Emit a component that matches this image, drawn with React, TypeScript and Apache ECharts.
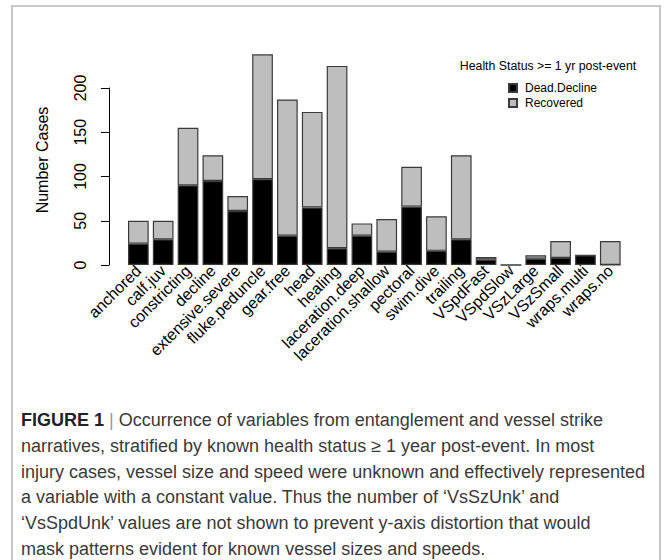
import React, { useEffect, useRef } from "react";
import * as echarts from "echarts";

const categories = [
  "anchored", "calf.juv", "constricting", "decline", "extensive.severe",
  "fluke.peduncle", "gear.free", "head", "healing", "laceration.deep",
  "laceration.shallow", "pectoral", "swim.dive", "trailing", "VSpdFast",
  "VSpdSlow", "VSzLarge", "VSzSmall", "wraps.multi", "wraps.no",
];
const deadDecline = [24, 29, 90, 95, 61, 97, 33, 65, 19, 33, 15, 66, 16, 29, 6, 0, 7, 8, 11, 0];
const recovered = [26, 21, 65, 29, 17, 141, 154, 108, 206, 14, 37, 45, 39, 95, 3, 0, 4, 19, 0, 27];
const yTicks = { min: 0, max: 200, interval: 50 };
const legendTitle = "Health Status >= 1 yr post-event";
const yAxisTitle = "Number Cases";
const captionLines = [
  "Occurrence of variables from entanglement and vessel strike",
  "narratives, stratified by known health status \u2265 1 year post-event. In most",
  "injury cases, vessel size and speed were unknown and effectively represented",
  "a variable with a constant value. Thus the number of \u2018VsSzUnk\u2019 and",
  "\u2018VsSpdUnk\u2019 values are not shown to prevent y-axis distortion that would",
  "mask patterns evident for known vessel sizes and speeds.",
];

const FONT = "Liberation Sans, Arial, sans-serif";
const CAP_FONT = "Liberation Sans, Arial, sans-serif";

export default function App() {
  const ref = useRef<HTMLDivElement>(null);
  useEffect(() => {
    if (!ref.current) return;
    const chart = echarts.init(ref.current, null, { renderer: "svg" });
    const capY0 = 420;
    const capStep = 25.8;
    const captionGraphics = captionLines.map((line, i) => ({
      type: "text",
      x: 21,
      y: capY0 + i * capStep,
      style: {
        text: i === 0 ? "{b|FIGURE 1} {p||} " + line : line,
        fontSize: 18,
        fontFamily: CAP_FONT,
        fill: "#3a3a3a",
        textVerticalAlign: "middle",
        rich: {
          b: { fontWeight: "bold", fontSize: 18, fontFamily: CAP_FONT, fill: "#222" },
          p: { fontSize: 18, fontFamily: CAP_FONT, fill: "#999" },
        },
      },
    }));
    chart.setOption({
      animation: false,
      backgroundColor: "#fff",
      grid: { left: 125.93, right: 41.3, top: 88, bottom: 295, containLabel: false },
      xAxis: {
        type: "category",
        data: categories,
        axisLine: { show: false },
        axisTick: { show: false },
        axisLabel: {
          interval: 0,
          rotate: 45,
          fontSize: 16,
          fontFamily: FONT,
          color: "#000",
          margin: 3,
        },
      },
      yAxis: {
        type: "value",
        min: yTicks.min,
        max: yTicks.max,
        interval: yTicks.interval,
        offset: 17,
        axisLine: { show: true, lineStyle: { color: "#000", width: 1 } },
        axisTick: { show: true, length: 8, lineStyle: { color: "#000", width: 1 } },
        axisLabel: { rotate: 90, fontSize: 16, fontFamily: FONT, color: "#000", margin: 20 },
        splitLine: { show: false },
      },
      legend: {
        data: ["Dead.Decline", "Recovered"],
        orient: "vertical",
        left: 503,
        top: 77,
        itemWidth: 8,
        itemHeight: 8,
        itemGap: 3,
        icon: "rect",
        textStyle: { fontSize: 12, fontFamily: FONT, color: "#000", padding: [0, 0, 0, 3] },
      },
      series: [
        {
          type: "bar",
          name: "Dead.Decline",
          stack: "s",
          data: deadDecline,
          barWidth: 20.7,
          clip: false,
          itemStyle: { color: "#000", borderColor: "#3a3a3a", borderWidth: 1.2 },
        },
        {
          type: "bar",
          name: "Recovered",
          stack: "s",
          data: recovered,
          barWidth: 20.7,
          clip: false,
          itemStyle: { color: "#bebebe", borderColor: "#3a3a3a", borderWidth: 1.2 },
        },
      ],
      graphic: [
        {
          type: "rect",
          shape: { x: 12, y: 6, width: 648, height: 600 },
          style: { fill: "none", stroke: "#c8c8c8", lineWidth: 2 },
          silent: true,
        },
        {
          type: "text",
          x: 548,
          y: 66,
          style: {
            text: legendTitle,
            fontSize: 12.3,
            fontFamily: FONT,
            fill: "#000",
            textAlign: "center",
            textVerticalAlign: "middle",
          },
        },
        {
          type: "text",
          x: 42,
          y: 160,
          rotation: Math.PI / 2,
          style: {
            text: yAxisTitle,
            fontSize: 16,
            fontFamily: FONT,
            fill: "#000",
            textAlign: "center",
            textVerticalAlign: "middle",
          },
        },
        ...captionGraphics,
      ],
    });
    return () => chart.dispose();
  }, []);
  return (
    <div
      ref={ref}
      style={{ position: "absolute", left: 0, top: 0, width: 664, height: 560 }}
    />
  );
}
